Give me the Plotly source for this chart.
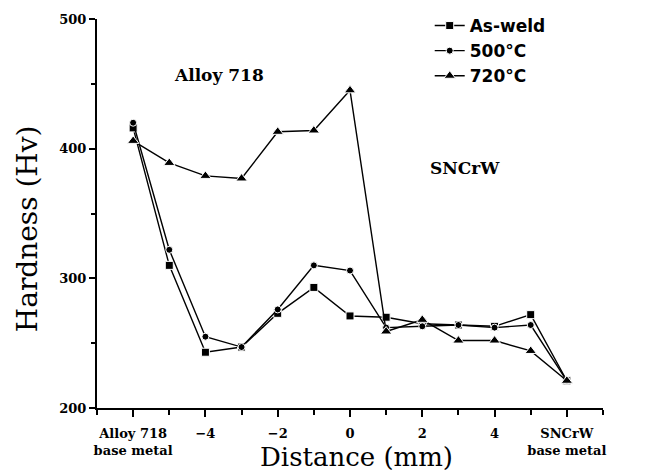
import plotly.graph_objects as go

positions = [-6, -5, -4, -3, -2, -1, 0, 1, 2, 3, 4, 5, 6]
as_weld = [416, 310, 243, 247, 273, 293, 271, 270, 265, 264, 263, 272, 221]
t500 = [420, 322, 255, 247, 276, 310, 306, 262, 263, 264, 262, 264, 221]
t720 = [406, 389, 379, 377, 413, 414, 445, 259, 268, 252, 252, 244, 221]

series_names = ["As-weld", "500°C", "720°C"]
x_tick_vals = [-6, -4, -2, 0, 2, 4, 6]
x_tick_text = ["Alloy 718<br>base metal", "−4", "−2", "0", "2", "4", "SNCrW<br>base metal"]
y_tick_vals = [200, 300, 400, 500]

fig = go.Figure()
styles = [("square", 8), ("circle", 7), ("triangle-up", 10)]
for name, vals, (sym, sz) in zip(series_names, [as_weld, t500, t720], styles):
    fig.add_trace(go.Scatter(
        x=positions, y=vals, name=name, mode="lines+markers",
        line=dict(color="black", width=1.4),
        marker=dict(symbol=sym, size=sz, color="black",
                    line=dict(color="white", width=1)),
    ))

tickfont = dict(family="DejaVu Serif", size=13, color="black", weight="bold")
# page body adds an 8px offset, so the figure is sized to fit inside the window
fig.update_layout(
    width=638, height=467,
    margin=dict(l=89, r=43, t=11, b=67, autoexpand=False),
    paper_bgcolor="white", plot_bgcolor="white",
    showlegend=True,
    legend=dict(xref="container", yref="container", x=0.661, y=1.015,
                xanchor="left", yanchor="top",
                bgcolor="rgba(0,0,0,0)", borderwidth=0,
                font=dict(family="DejaVu Sans", size=17, color="black", weight="bold"),
                tracegroupgap=0, itemwidth=30),
    xaxis=dict(range=[-7, 7], tickmode="array", tickvals=x_tick_vals, ticktext=x_tick_text,
               showgrid=False, zeroline=False, showline=True, linecolor="black", linewidth=2,
               ticks="outside", ticklen=7, tickwidth=2, tickcolor="black",
               ticklabelstandoff=5,
               minor=dict(dtick=1, ticks="outside", ticklen=5, tickwidth=2, tickcolor="black"),
               tickfont=tickfont),
    yaxis=dict(range=[200, 500], tickmode="array", tickvals=y_tick_vals,
               showgrid=False, zeroline=False, showline=True, linecolor="black", linewidth=2,
               ticks="outside", ticklen=6, tickwidth=2, tickcolor="black",
               minor=dict(dtick=50, ticks="outside", ticklen=4, tickwidth=1.5, tickcolor="black"),
               tickfont=tickfont),
    annotations=[
        dict(text="Distance (mm)", x=0.512, y=-0.1697, xref="paper", yref="paper",
             xanchor="center", yanchor="bottom", showarrow=False,
             font=dict(family="DejaVu Serif", size=26, color="black")),
        dict(text="Hardness (Hv)", x=-0.138, y=0.46, xref="paper", yref="paper",
             xanchor="center", yanchor="middle", showarrow=False, textangle=-90,
             font=dict(family="DejaVu Serif", size=28, color="black")),
        dict(text="Alloy 718", x=-3.63, y=457, xref="x", yref="y",
             xanchor="center", yanchor="middle", showarrow=False,
             font=dict(family="DejaVu Serif", size=17, color="black", weight="bold")),
        dict(text="SNCrW", x=3.17, y=385, xref="x", yref="y",
             xanchor="center", yanchor="middle", showarrow=False,
             font=dict(family="DejaVu Serif", size=17, color="black", weight="bold")),
    ],
)

fig.write_html("out.html")
